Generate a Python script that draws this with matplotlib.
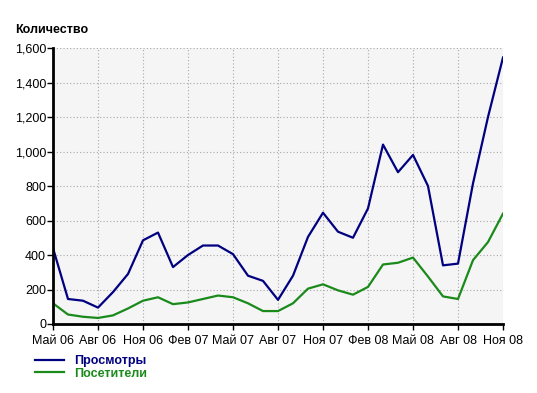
import numpy as np
import matplotlib.pyplot as plt
from matplotlib.ticker import FuncFormatter

plt.rcParams['font.family'] = ['Liberation Sans', 'DejaVu Sans']

# months May 06 .. Nov 08
month_names = ["Янв", "Фев", "Мар", "Апр", "Май", "Июн", "Июл", "Авг", "Сен", "Окт", "Ноя", "Дек"]
months = []
for i in range(31):
    m = (4 + i) % 12
    yr = 6 + (4 + i) // 12
    months.append(f"{month_names[m]} {yr:02d}")

views = [440, 145, 135, 95, 185, 290, 485, 530, 330, 400, 455, 455, 405, 280, 250,
         140, 280, 505, 645, 535, 500, 670, 1040, 880, 980, 800, 340, 350, 815, 1200, 1545]
visitors = [120, 55, 42, 35, 50, 90, 135, 155, 115, 125, 145, 165, 155, 120, 75,
            75, 120, 205, 230, 195, 170, 215, 345, 355, 385, 275, 160, 145, 370, 475, 640]

series_names = ["Просмотры", "Посетители"]
colors = ["#000080", "#1a8a1a"]

x = np.arange(len(months))

fig = plt.figure(figsize=(5.37, 3.93), dpi=100)
ax = fig.add_axes([53 / 537, 1 - 324 / 393, 450 / 537, 276 / 393])
ax.set_facecolor("#f5f5f5")

ax.plot(x, views, color=colors[0], lw=1.6, label=series_names[0])
ax.plot(x, visitors, color=colors[1], lw=1.6, label=series_names[1])

ax.set_xlim(0, len(months) - 1)
ax.set_ylim(0, 1600)
ax.set_xticks(x[::3])
ax.set_xticklabels(months[::3])
ax.set_yticks(np.arange(0, 1601, 200))
ax.yaxis.set_major_formatter(FuncFormatter(lambda v, p: f"{int(v):,}"))

ax.grid(True, color="#a8a8a8", linestyle=(0, (1, 2)), lw=0.8)
for s in ["top", "right"]:
    ax.spines[s].set_visible(False)
for s in ["left", "bottom"]:
    ax.spines[s].set_linewidth(2)
ax.tick_params(axis="both", labelsize=9, length=4, width=1, colors="black")
ax.tick_params(axis="x", pad=4)
ax.tick_params(axis="y", pad=1)

fig.text(15 / 537, 1 - 30 / 393, "Количество", fontsize=9, fontweight="bold", va="center")

leg = fig.legend(loc="upper left", bbox_to_anchor=(35 / 537, 1 - 355 / 393),
                 frameon=False, handlelength=2.3, handletextpad=0.85,
                 labelspacing=0.05, borderpad=0, borderaxespad=0,
                 prop={"weight": "bold", "size": 9}, labelcolor="linecolor")

fig.savefig("out.png", dpi=100)
